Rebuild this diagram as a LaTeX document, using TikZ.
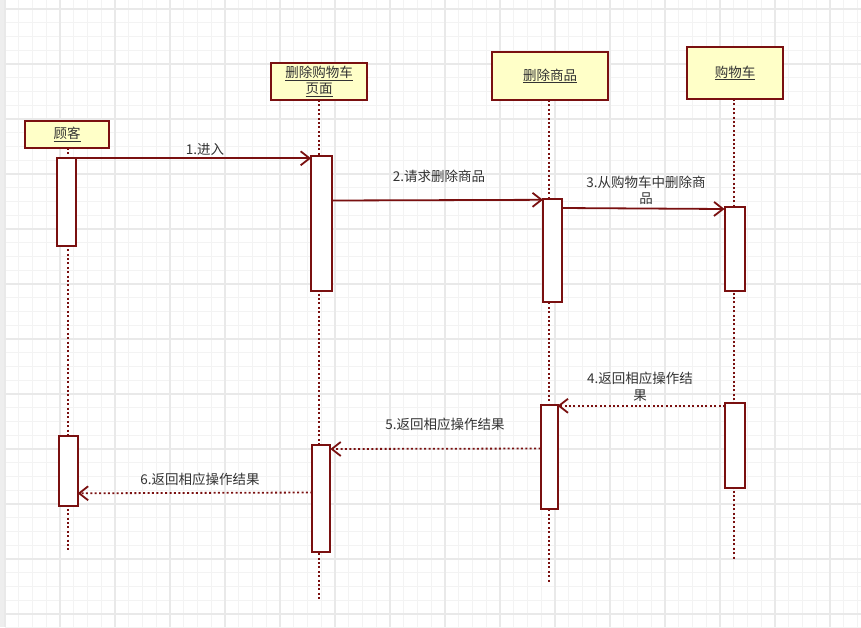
\documentclass[tikz,border=0pt]{standalone}
\usepackage{fontspec}
\setmainfont{Noto Sans CJK SC}
\usetikzlibrary{arrows.meta}
\definecolor{lred}{RGB}{122,16,16}
\definecolor{boxfill}{RGB}{255,255,200}
\definecolor{txt}{RGB}{51,51,51}
\definecolor{gminor}{RGB}{243,243,243}
\definecolor{gmajor}{RGB}{233,233,233}
\definecolor{strip}{RGB}{238,238,238}
\begin{document}
\begin{tikzpicture}[x=1pt,y=-1pt,
  obj/.style={draw=lred, fill=boxfill, line width=2pt, inner sep=0pt, outer sep=0pt,
    text=txt, font=\fontsize{13.5}{16}\selectfont, align=center},
  act/.style={draw=lred, fill=white, line width=2pt, inner sep=0pt, outer sep=0pt, minimum width=19pt},
  lifeline/.style={lred, line width=2pt, dash pattern=on 2pt off 2.4pt},
  msg/.style={lred, line width=1.8pt, -{Straight Barb[length=9pt,width=14pt,line width=1.8pt]}},
  ret/.style={msg, dash pattern=on 2pt off 2.4pt},
  lbl/.style={text=txt, font=\fontsize{13.5}{16.5}\selectfont, align=center, inner sep=0pt}]
\useasboundingbox (0,0) rectangle (861,627);
% background grid
\fill[white] (0,0) rectangle (861,627);
\fill[strip] (0,0) rectangle (5,627);
\foreach \i in {0,...,62} {\draw[gminor, line width=1.3pt] (5+13.75*\i,0) -- (5+13.75*\i,627);}
\foreach \i in {0,...,45} {\draw[gminor, line width=1.3pt] (5,9+13.75*\i) -- (861,9+13.75*\i);}
\foreach \i in {0,...,15} {\draw[gmajor, line width=1.3pt] (5+55*\i,0) -- (5+55*\i,627);}
\foreach \i in {0,...,11} {\draw[gmajor, line width=1.3pt] (5,9+55*\i) -- (861,9+55*\i);}
% objects
\node[obj, minimum width=84pt, minimum height=27pt] (cust) at (67,134.5) {\underline{顾客}};
\node[obj, minimum width=96pt, minimum height=37pt] (page) at (319,81.5) {\underline{删除购物车}\\\underline{页面}};
\node[obj, minimum width=116pt, minimum height=48pt] (del) at (550,76) {\underline{删除商品}};
\node[obj, minimum width=96pt, minimum height=52pt] (cart) at (735,73) {\underline{购物车}};
% lifeline ends
\coordinate (custEnd) at (67.5,552);
\coordinate (pageEnd) at (319.3,600);
\coordinate (delEnd) at (549.3,582);
\coordinate (cartEnd) at (734.3,560);
\draw[lifeline] (cust.south -| custEnd) -- (custEnd);
\draw[lifeline] (page.south -| pageEnd) -- (pageEnd);
\draw[lifeline] (del.south -| delEnd) -- (delEnd);
\draw[lifeline] (cart.south -| cartEnd) -- (cartEnd);
% activations
\node[act, minimum height=88pt] (c1) at (66.5,202) {};
\node[act, minimum height=70pt] (c2) at (68.2,471) {};
\node[act, minimum width=21pt, minimum height=135pt] (p1) at (321.6,223.5) {};
\node[act, minimum width=18pt, minimum height=107pt] (p2) at (321.3,498.5) {};
\node[act, minimum height=103pt] (d1) at (552.5,250.5) {};
\node[act, minimum width=17pt, minimum height=104pt] (d2) at (549,457) {};
\node[act, minimum width=20pt, minimum height=84pt] (s1) at (734.5,248.8) {};
\node[act, minimum width=20pt, minimum height=85pt] (s2) at (735,445.4) {};
% messages
\draw[msg] (c1.east |- 0,158.3) -- (p1.west |- 0,158.3);
\draw[msg] (p1.east |- 0,200.5) -- (d1.west |- 0,199.8);
\draw[msg] (d1.east |- 0,208) -- (s1.west |- 0,209);
\draw[ret] (s2.west |- 0,405.8) -- (d2.east |- 0,405.8);
\draw[ret] (d2.west |- 0,448.5) -- (p2.east |- 0,449);
\draw[ret] (p2.west |- 0,492.5) -- (c2.east |- 0,493.3);
% labels
\node[lbl] (l1) at (205,149) {1.进入};
\node[lbl] (l2) at (439,176) {2.请求删除商品};
\node[lbl] (l3) at (646,190.5) {3.从购物车中删除商\\品};
\node[lbl] (l4) at (640,387) {4.返回相应操作结\\果};
\node[lbl] (l5) at (445,424) {5.返回相应操作结果};
\node[lbl] (l6) at (200,479) {6.返回相应操作结果};
\end{tikzpicture}
\end{document}
